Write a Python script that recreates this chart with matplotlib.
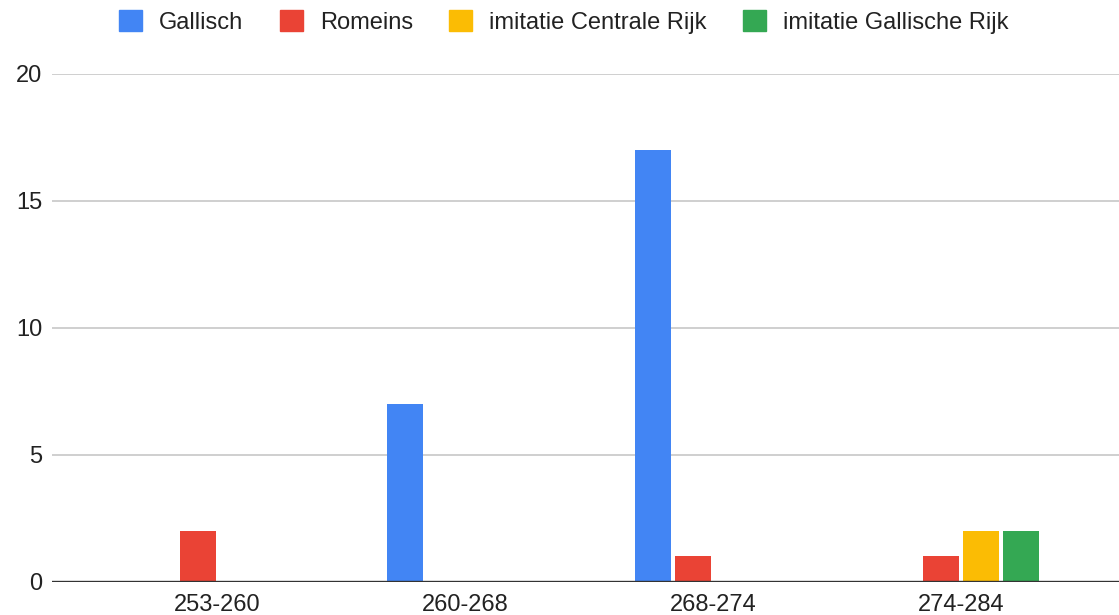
import numpy as np
import matplotlib
matplotlib.use("Agg")
import matplotlib.pyplot as plt
import matplotlib.patches as mpatches

plt.rcParams["font.family"] = ["Liberation Sans", "DejaVu Sans"]

# --- data ---
periods = ["253-260", "260-268", "268-274", "274-284"]
series_names = ["Gallisch", "Romeins", "imitatie Centrale Rijk", "imitatie Gallische Rijk"]
gallisch = [0, 7, 17, 0]
romeins = [2, 0, 1, 1]
imit_centraal = [0, 0, 0, 2]
imit_gallisch = [0, 0, 0, 2]
colors = ["#4285F4", "#EA4335", "#FBBC04", "#34A853"]

all_series = [gallisch, romeins, imit_centraal, imit_gallisch]

fig = plt.figure(figsize=(11.19, 6.15), dpi=100)
ax = fig.add_axes([52 / 1119, 33.3 / 615, 1 - 52 / 1119, (581.7 - 73.7) / 615])

x = np.arange(len(periods))
step = 0.1615
width = 0.145
for i, (vals, c) in enumerate(zip(all_series, colors)):
    ax.bar(x + (i - 1.5) * step, vals, width=width, color=c, linewidth=0, zorder=3)

ax.set_xlim(-0.668, 3.637)
ax.set_ylim(0, 20)
ax.set_yticks([0, 5, 10, 15, 20])
ax.set_xticks(x)
ax.set_xticklabels(periods)

ax.grid(True, axis="y", color="#cccccc", linewidth=1.3, zorder=0)
ax.axhline(0, color="#333333", linewidth=1.7, zorder=4)
for s in ax.spines.values():
    s.set_visible(False)
ax.tick_params(axis="both", length=0, labelsize=17, colors="#222222")
ax.tick_params(axis="x", pad=9)
ax.tick_params(axis="y", pad=7)

handles = [mpatches.Patch(color=c, label=n) for c, n in zip(colors, series_names)]
fig.legend(handles=handles, loc="center", bbox_to_anchor=(0.504, 0.964), ncol=4,
           frameon=False, fontsize=17, handlelength=0.97, handleheight=0.97,
           handletextpad=0.72, columnspacing=1.55, labelcolor="#222222")

fig.savefig("out.png", dpi=100)
